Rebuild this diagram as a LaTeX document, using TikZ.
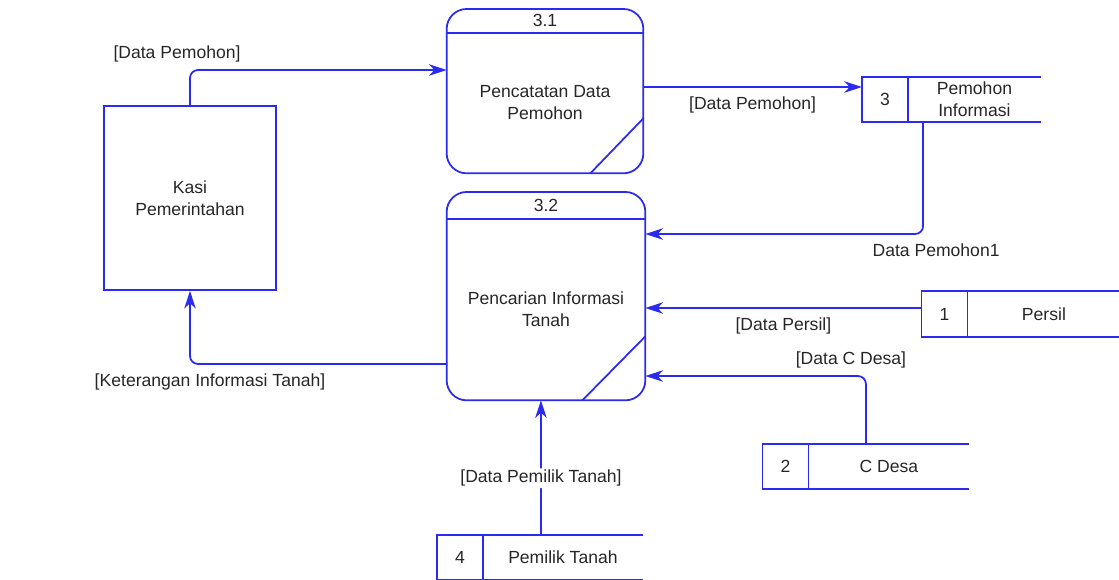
\documentclass[tikz,border=0pt]{standalone}
\usepackage{fontspec}
\setmainfont{Liberation Sans}
\usepackage{tikz}
\usetikzlibrary{arrows.meta,positioning,calc}
\definecolor{FlowBlue}{HTML}{2A2AF2}
\definecolor{TextGrey}{HTML}{262626}
\tikzset{
  % Base text
  txt/.style={font=\fontsize{10}{12.5}\selectfont,text=TextGrey,align=center},
  % External entity
  ent/.style={txt,rectangle,draw=FlowBlue,line width=1pt,
              minimum width=3.44cm,minimum height=3.68cm},
  % Process body and header
  procbody/.style={txt,rectangle,inner sep=0pt},
  prochead/.style={txt,rectangle,inner sep=0pt},
  procline/.style={draw=FlowBlue,line width=1pt},
  % Data store
  stid/.style={txt,rectangle,inner sep=0pt,minimum width=0.91cm,minimum height=0.9cm},
  stname/.style={txt,rectangle,inner sep=0pt,minimum height=0.9cm},
  stline/.style={draw=FlowBlue,line width=1pt},
  % Flow
  flow/.style={-{Stealth[length=10pt,width=6.5pt,inset=3pt]},draw=FlowBlue,
               line width=1pt,rounded corners=0.16cm},
  lbl/.style={txt,inner sep=1pt}
}

\begin{document}
\begin{tikzpicture}[x=0.02cm,y=-0.02cm]
  \useasboundingbox (0,0) rectangle (1119,579);
  % entity
  \node[ent] (kasi) at (190,198) {Kasi\\Pemerintahan};
  % process 3.1
  \node[procbody,minimum width=3.92cm,minimum height=2.8cm] (p31) at (545,103) {Pencatatan Data\\Pemohon};
  \node[prochead,minimum width=3.92cm,minimum height=0.46cm,above=0 of p31] (p31h) {3.1};
  \draw[procline,rounded corners=0.4cm] (p31h.north west) rectangle (p31.south east);
  \draw[procline] (p31h.south west) -- (p31h.south east);
  \draw[procline] ([xshift=-1.06cm]p31.south east) -- ([yshift=1.1cm]p31.south east);
  % process 3.2
  \node[procbody,minimum width=3.96cm,minimum height=3.62cm] (p32) at (546,309.5) {Pencarian Informasi\\Tanah};
  \node[prochead,minimum width=3.96cm,minimum height=0.52cm,above=0 of p32] (p32h) {3.2};
  \draw[procline,rounded corners=0.4cm] (p32h.north west) rectangle (p32.south east);
  \draw[procline] (p32h.south west) -- (p32h.south east);
  \draw[procline] ([xshift=-1.26cm]p32.south east) -- ([yshift=1.28cm]p32.south east);
  % data stores
  \node[stid] (s3id) at (885,99.5) {3};
  \node[stname,minimum width=2.64cm,right=0 of s3id] (s3) {Pemohon\\Informasi};
  \draw[stline] (s3.north east) -- (s3id.north west) -- (s3id.south west) -- (s3.south east);
  \draw[stline] (s3id.north east) -- (s3id.south east);
  \node[stid,minimum height=0.92cm] (s1id) at (944.5,314) {1};
  \node[stname,minimum width=3.04cm,minimum height=0.92cm,right=0 of s1id] (s1) {Persil};
  \draw[stline] (s1.north east) -- (s1id.north west) -- (s1id.south west) -- (s1.south east);
  \draw[stline] (s1id.north east) -- (s1id.south east);
  \node[stid] (s2id) at (785.5,466.5) {2};
  \node[stname,minimum width=3.2cm,right=0 of s2id] (s2) {C Desa};
  \draw[stline] (s2.north east) -- (s2id.north west) -- (s2id.south west) -- (s2.south east);
  \draw[stline] (s2id.north east) -- (s2id.south east);
  \node[stid] (s4id) at (460,557.5) {4};
  \node[stname,minimum width=3.18cm,right=0 of s4id] (s4) {Pemilik Tanah};
  \draw[stline] (s4.north east) -- (s4id.north west) -- (s4id.south west) -- (s4.south east);
  \draw[stline] (s4id.north east) -- (s4id.south east);
  % flows
  \draw[flow] (kasi.north) |- ([yshift=0.66cm]p31.west)
    node[lbl,pos=0.5,above=3pt,xshift=-0.26cm] {[Data Pemohon]};
  \coordinate (f2s) at ([yshift=0.32cm]p31.east);
  \draw[flow] (f2s) -- (f2s -| s3id.west) node[lbl,midway,below=4pt] {[Data Pemohon]};
  \coordinate (f3s) at ([xshift=0.3cm]s3.south west);
  \coordinate (f3e) at ([yshift=1.51cm]p32.east);
  \draw[flow] (f3s) |- (f3e) node[lbl,pos=0.5,below=4pt,xshift=0.26cm] {Data Pemohon1};
  \coordinate (f4s) at ([yshift=0.12cm]s1id.west);
  \draw[flow] (f4s) -- (f4s -| p32.east) node[lbl,midway,below=4pt] {[Data Persil]};
  \coordinate (f5s) at ([xshift=-0.46cm]s2.north);
  \coordinate (f5e) at ([yshift=-1.33cm]p32.east);
  \draw[flow] (f5s) |- (f5e) node[lbl,pos=0.5,above=3pt,xshift=-0.3cm] {[Data C Desa]};
  \coordinate (f6s) at ([yshift=-1.09cm]p32.west);
  \draw[flow] (f6s) -| (kasi.south) node[lbl,pos=0.5,below=4pt,xshift=0.4cm] {[Keterangan Informasi Tanah]};
  \coordinate (f7s) at ([xshift=-0.44cm]s4.north);
  \draw[flow] (f7s) -- (f7s |- p32.south) node[lbl,pos=0.42,fill=white] {[Data Pemilik Tanah]};
\end{tikzpicture}
\end{document}
